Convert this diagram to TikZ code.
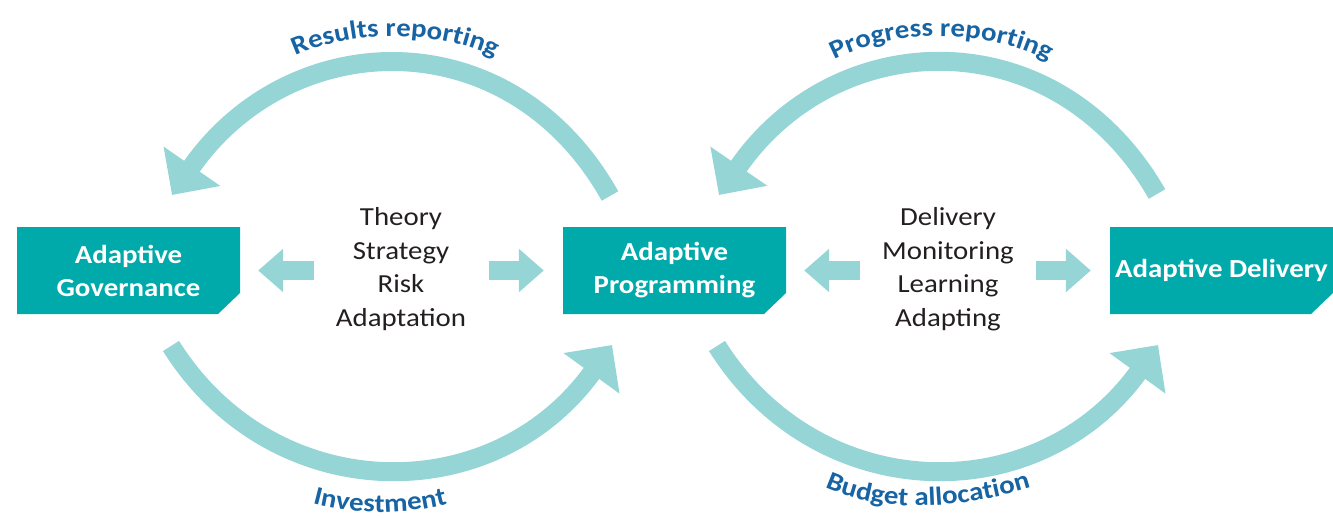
\documentclass[tikz,border=0pt]{standalone}
\usepackage{fontspec}
\setmainfont{Carlito}[FakeStretch=1.11]
\usetikzlibrary{arrows.meta,calc,decorations.text}
\definecolor{boxteal}{RGB}{0,169,170}
\definecolor{flowcyan}{RGB}{149,213,214}
\definecolor{labelblue}{RGB}{22,100,164}
\definecolor{bodytext}{RGB}{35,31,32}
\newcommand{\boxfont}{\fontsize{26}{33}\selectfont\bfseries}
\newcommand{\listfont}{\fontsize{26}{33.5}\selectfont}
\newcommand{\flowfont}{\fontsize{26}{26}\selectfont\bfseries}
\tikzset{
  stagebox/.style={rectangle, fill=white, text=white, minimum width=223pt,
    minimum height=87pt, inner sep=0pt, align=center, font=\boxfont,
    path picture={\fill[boxteal] (path picture bounding box.north west)
      -- (path picture bounding box.north east)
      -- ($(path picture bounding box.south east)+(0,-21)$)
      -- ($(path picture bounding box.south east)+(-22,0)$)
      -- (path picture bounding box.south west) -- cycle;}},
  steplist/.style={text=bodytext, align=center, font=\listfont},
  cycleflow/.style={flowcyan, line width=19pt, -{Triangle[length=35pt,width=67pt]}},
  blockflow/.style={flowcyan, line width=19pt, -{Triangle[length=25pt,width=42pt]}},
  flowlabel/.style={decorate, decoration={text along path, text align=center,
    text color=labelblue, text={|\flowfont|#1}}}
}

\begin{document}
\begin{tikzpicture}[x=1pt,y=-1pt]
    \useasboundingbox (0,0) rectangle (1333,517);
    % stages
    \node[stagebox] (gov) at (128.5,270.5) {Adaptive\\Governance};
    \node[stagebox] (prog) at (674.5,270.5) {Adaptive\\Programming};
    \node[stagebox] (deliv) at (1221.5,270.5) {Adaptive Delivery};
    % what flows between them
    \node[steplist] (govlist) at (401,269) {Theory\\Strategy\\Risk\\Adaptation};
    \node[steplist] (proglist) at (948,269) {Delivery\\Monitoring\\Learning\\Adapting};
    % short arrows
    \draw[blockflow] ($(gov.east)+(74,0)$) -- ($(gov.east)+(18,0)$);
    \draw[blockflow] ($(prog.west)+(-74,0)$) -- ($(prog.west)+(-19,0)$);
    \draw[blockflow] ($(prog.east)+(74,0)$) -- ($(prog.east)+(18,0)$);
    \draw[blockflow] ($(deliv.west)+(-74,0)$) -- ($(deliv.west)+(-19,0)$);
    % loops
    \coordinate (resultsFrom) at (610,196);
    \coordinate (resultsTo) at (172,195);
    \coordinate (investFrom) at (171,346);
    \coordinate (investTo) at (612,345);
    \coordinate (progressFrom) at (1157,194);
    \coordinate (progressTo) at (719,195);
    \coordinate (budgetFrom) at (717,346);
    \coordinate (budgetTo) at (1158,345);
    \draw[cycleflow] (resultsFrom) .. controls (510,18) and (290,25) .. (resultsTo);
    \draw[cycleflow] (investFrom) .. controls (272,507) and (492,511) .. (investTo);
    \draw[cycleflow] (progressFrom) .. controls (1056,18) and (836,25) .. (progressTo);
    \draw[cycleflow] (budgetFrom) .. controls (818,507) and (1038,511) .. (budgetTo);
    % loop labels
    \path[flowlabel={Results reporting}] (254,84) .. controls (318,20) and (472,20) .. (536,86);
    \path[flowlabel={Progress reporting}] (800,84) .. controls (864,20) and (1018,20) .. (1082,86);
    \path[flowlabel={Investment}] (270,486) .. controls (325,521) and (435,521) .. (490,486);
    \path[flowlabel={Budget allocation}] (790,466) .. controls (855,520) and (965,515) .. (1070,474);
\end{tikzpicture}
\end{document}
